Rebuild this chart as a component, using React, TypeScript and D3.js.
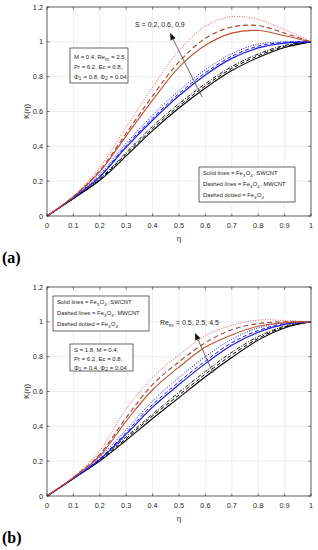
import React from 'react';
import * as d3 from 'd3';

const W = 318;
const H = 550;

const eta = [0, 0.1, 0.2, 0.3, 0.4, 0.5, 0.6, 0.7, 0.8, 0.9, 1];

// panel (a): S = 0.2 (black), 0.6 (blue), 0.9 (red)
const aBlackSolid = [0, 0.10, 0.205, 0.345, 0.49, 0.62, 0.735, 0.835, 0.91, 0.968, 1];
const aBlackDash = [0, 0.10, 0.21, 0.355, 0.502, 0.632, 0.748, 0.847, 0.92, 0.974, 1];
const aBlackDot = [0, 0.102, 0.215, 0.365, 0.515, 0.645, 0.76, 0.858, 0.93, 0.98, 1];
const aBlueSolid = [0, 0.105, 0.225, 0.395, 0.55, 0.69, 0.81, 0.905, 0.965, 0.993, 1];
const aBlueDash = [0, 0.106, 0.23, 0.405, 0.562, 0.703, 0.823, 0.917, 0.975, 0.997, 1];
const aBlueDot = [0, 0.108, 0.238, 0.418, 0.578, 0.72, 0.84, 0.932, 0.987, 1.0, 1];
const aRedSolid = [0, 0.11, 0.255, 0.46, 0.665, 0.855, 0.98, 1.05, 1.065, 1.035, 1];
const aRedDash = [0, 0.112, 0.262, 0.475, 0.69, 0.885, 1.02, 1.085, 1.093, 1.05, 1];
const aRedDot = [0, 0.115, 0.28, 0.51, 0.74, 0.95, 1.09, 1.145, 1.128, 1.07, 1];

// panel (b): Re_m = 0.5 (black), 2.5 (blue), 4.5 (red)
const bBlackSolid = [0, 0.10, 0.20, 0.32, 0.445, 0.565, 0.685, 0.795, 0.895, 0.965, 1];
const bBlackDash = [0, 0.10, 0.205, 0.33, 0.46, 0.58, 0.70, 0.81, 0.905, 0.97, 1];
const bBlackDot = [0, 0.10, 0.21, 0.34, 0.47, 0.595, 0.715, 0.825, 0.915, 0.975, 1];
const bBlueSolid = [0, 0.10, 0.21, 0.355, 0.51, 0.64, 0.76, 0.865, 0.94, 0.985, 1];
const bBlueDash = [0, 0.102, 0.215, 0.365, 0.525, 0.655, 0.775, 0.88, 0.95, 0.99, 1];
const bBlueDot = [0, 0.104, 0.225, 0.38, 0.545, 0.68, 0.80, 0.90, 0.965, 0.995, 1];
const bRedSolid = [0, 0.105, 0.23, 0.43, 0.61, 0.74, 0.855, 0.925, 0.975, 0.995, 1];
const bRedDash = [0, 0.107, 0.24, 0.45, 0.64, 0.77, 0.88, 0.955, 0.99, 1.0, 1];
const bRedDot = [0, 0.11, 0.26, 0.50, 0.68, 0.81, 0.92, 0.98, 1.01, 1.008, 1];

const xTicks = [0, 0.1, 0.2, 0.3, 0.4, 0.5, 0.6, 0.7, 0.8, 0.9, 1];
const yTicks = [0, 0.2, 0.4, 0.6, 0.8, 1, 1.2];

const FONT = 'Liberation Sans, Arial, sans-serif';
const INK = '#262626';

const styles = {
  black: '#000000',
  blue: '#1a1ae6',
  redSolid: '#c0502e',
  redDash: '#a34432',
  redDot: '#e62a3c',
};

const mk = (vals: number[], color: string, dash: string | null, w = 1) => ({ vals, color, dash, w });

const seriesA = [
  mk(aBlackSolid, styles.black, null, 1.1),
  mk(aBlackDash, styles.black, '4,2.5', 1),
  mk(aBlackDot, styles.black, '4,1.5,1,1.5', 0.9),
  mk(aBlueSolid, styles.blue, null, 1.2),
  mk(aBlueDash, styles.blue, '4,2.5', 1),
  mk(aBlueDot, styles.blue, '1,1.5', 1),
  mk(aRedSolid, styles.redSolid, null, 1.1),
  mk(aRedDash, styles.redDash, '5,3', 1.1),
  mk(aRedDot, styles.redDot, '1,1.5', 0.8),
];

const seriesB = [
  mk(bBlackSolid, styles.black, null, 1.1),
  mk(bBlackDash, styles.black, '4,2.5', 1),
  mk(bBlackDot, styles.black, '4,1.5,1,1.5', 0.9),
  mk(bBlueSolid, styles.blue, null, 1.2),
  mk(bBlueDash, styles.blue, '4,2.5', 1),
  mk(bBlueDot, styles.blue, '1,1.5', 1),
  mk(bRedSolid, styles.redSolid, null, 1.1),
  mk(bRedDash, styles.redDash, '5,3', 1.1),
  mk(bRedDot, styles.redDot, '1,1.5', 0.8),
];

const Sub = ({ children }: { children: string }) => (
  <>
    <tspan dy={1.6} fontSize="0.75em">{children}</tspan>
    <tspan dy={-1.6}>{'\u200a'}</tspan>
  </>
);

function Legend({ x, y }: { x: number; y: number }) {
  const w = 96;
  const h = 35;
  return (
    <g fontFamily={FONT} fontSize={5.8} fill={INK}>
      <rect x={x} y={y} width={w} height={h} fill="#fff" stroke={INK} strokeWidth={0.7} />
      <text x={x + 4} y={y + 8}>Solid lines = Fe<Sub>3</Sub>O<Sub>4</Sub>, SWCNT</text>
      <text x={x + 4} y={y + 19}>Dashed lines = Fe<Sub>3</Sub>O<Sub>4</Sub>, MWCNT</text>
      <text x={x + 4} y={y + 30}>Dashed dotted = Fe<Sub>3</Sub>O<Sub>4</Sub></text>
    </g>
  );
}

function Panel({ top, series, label, children }: { top: number; series: any[]; label: string; children?: React.ReactNode }) {
  const bottom = top + 209;
  const left = 47;
  const right = 311;
  const x = d3.scaleLinear().domain([0, 1]).range([left, right]);
  const y = d3.scaleLinear().domain([0, 1.2]).range([bottom, top]);
  const line = d3
    .line<number>()
    .x((_, i) => x(eta[i]))
    .y((d) => y(d))
    .curve(d3.curveCatmullRom.alpha(0.5));
  const tl = 2.6;
  return (
    <g>
      {xTicks.map((t) => (
        <line key={'gx' + t} x1={x(t)} x2={x(t)} y1={top} y2={bottom} stroke="#e3e3e3" strokeWidth={0.6} />
      ))}
      {yTicks.map((t) => (
        <line key={'gy' + t} x1={left} x2={right} y1={y(t)} y2={y(t)} stroke="#e3e3e3" strokeWidth={0.6} />
      ))}
      {series.map((s, i) => (
        <path
          key={i}
          d={line(s.vals) || ''}
          fill="none"
          stroke={s.color}
          strokeWidth={s.w}
          strokeDasharray={s.dash || undefined}
        />
      ))}
      <rect x={left} y={top} width={right - left} height={bottom - top} fill="none" stroke={INK} strokeWidth={0.7} />
      {xTicks.map((t) => (
        <g key={'tx' + t}>
          <line x1={x(t)} x2={x(t)} y1={bottom} y2={bottom - tl} stroke={INK} strokeWidth={0.6} />
          <line x1={x(t)} x2={x(t)} y1={top} y2={top + tl} stroke={INK} strokeWidth={0.6} />
          <text x={x(t)} y={bottom + 11.5} textAnchor="middle" fontFamily={FONT} fontSize={7.3} fill={INK}>
            {d3.format('~g')(t)}
          </text>
        </g>
      ))}
      {yTicks.map((t) => (
        <g key={'ty' + t}>
          <line x1={left} x2={left + tl} y1={y(t)} y2={y(t)} stroke={INK} strokeWidth={0.6} />
          <line x1={right} x2={right - tl} y1={y(t)} y2={y(t)} stroke={INK} strokeWidth={0.6} />
          <text x={left - 4} y={y(t)} dy="0.35em" textAnchor="end" fontFamily={FONT} fontSize={7.3} fill={INK}>
            {d3.format('~g')(t)}
          </text>
        </g>
      ))}
      <text
        transform={`translate(29,${(top + bottom) / 2}) rotate(-90)`}
        textAnchor="middle"
        fontFamily={FONT}
        fontSize={8}
        fill={INK}
      >
        K(η)
      </text>
      <text x={(left + right) / 2} y={bottom + 25} textAnchor="middle" fontFamily={FONT} fontSize={8} fill={INK}>
        η
      </text>
      {children}
      <text x={2} y={bottom + 47} fontFamily="Liberation Serif, Times New Roman, serif" fontWeight="bold" fontSize={16} fill="#000">
        {label}
      </text>
    </g>
  );
}

function Arrow({ x1, y1, x2, y2 }: { x1: number; y1: number; x2: number; y2: number }) {
  const a = Math.atan2(y2 - y1, x2 - x1);
  const len = 7;
  const half = 2.8;
  const bx = x2 - len * Math.cos(a);
  const by = y2 - len * Math.sin(a);
  const px = -Math.sin(a) * half;
  const py = Math.cos(a) * half;
  return (
    <g>
      <line x1={x1} y1={y1} x2={bx} y2={by} stroke="#555" strokeWidth={0.9} />
      <path d={`M${x2},${y2}L${bx + px},${by + py}L${bx - px},${by - py}Z`} fill="#111" />
    </g>
  );
}

export default function App() {
  return (
    <svg width={W} height={H} style={{ position: 'absolute', left: 0, top: 0, background: '#fff' }}>
      <rect width={W} height={H} fill="#fff" />
      <Panel top={7} series={seriesA} label="(a)">
        <Arrow x1={202} y1={97} x2={170} y2={33} />
        <text x={135} y={27} fontFamily={FONT} fontSize={7} fill={INK}>S = 0.2, 0.6, 0.9</text>
        <g fontFamily={FONT} fontSize={6} fill={INK}>
          <rect x={70} y={48} width={58} height={35} fill="#fff" stroke={INK} strokeWidth={0.7} />
          <text x={74} y={59}>M = 0.4, Re<Sub>m</Sub> = 2.5,</text>
          <text x={74} y={69}>Pr = 6.2, Ec = 0.8,</text>
          <text x={74} y={78.5}>Φ<Sub>1</Sub> = 0.8, Φ<Sub>2</Sub> = 0.04</text>
        </g>
        <Legend x={199} y={167} />
      </Panel>
      <Panel top={287} series={seriesB} label="(b)">
        <Arrow x1={213} y1={373} x2={195} y2={333} />
        <text x={160} y={325} fontFamily={FONT} fontSize={7} fill={INK}>
          Re<Sub>m</Sub> = 0.5, 2.5, 4.5
        </text>
        <Legend x={53} y={296} />
        <g fontFamily={FONT} fontSize={6} fill={INK}>
          <rect x={70} y={344} width={63} height={27} fill="#fff" stroke={INK} strokeWidth={0.7} />
          <text x={74} y={352}>S = 1.8, M = 0.4,</text>
          <text x={74} y={361}>Pr = 6.2, Ec = 0.8,</text>
          <text x={74} y={369.5}>Φ<Sub>1</Sub> = 0.4, Φ<Sub>2</Sub> = 0.04</text>
        </g>
      </Panel>
    </svg>
  );
}
